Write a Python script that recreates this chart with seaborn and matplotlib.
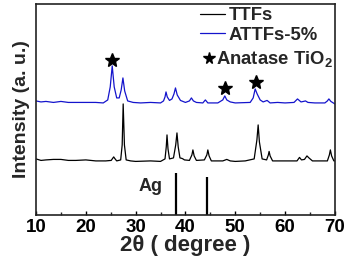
import matplotlib
matplotlib.use("Agg")
import matplotlib.pyplot as plt
import seaborn as sns
import numpy as np
import pandas as pd

# XRD traces (2theta, intensity in arbitrary units)
ttfs_2theta = [10, 11, 12, 13.5, 15, 16.5, 18, 20, 22, 24, 25.1, 25.45, 25.6, 25.8, 26.2,
               27.0, 27.3, 27.5, 27.75, 28.1, 29, 30, 33, 35,
               35.9, 36.15, 36.3, 36.5, 36.8, 37.6, 38.05, 38.3, 38.55, 38.9, 39.3, 39.5, 39.8,
               40.8, 41.3, 41.5, 41.75, 42.2, 43.8, 44.3, 44.5, 44.75, 45.2,
               47.5, 48.3, 49.0, 50, 52, 53.8, 54.35, 54.6, 54.85, 55.4, 56.3, 56.65, 56.8,
               57.0, 57.5, 60, 62.4, 62.9, 63.3, 63.9, 64.4, 64.8, 65.5, 68.5, 68.9, 69.1,
               69.35, 69.8, 70]
ttfs_int = [56, 54.5, 55, 55.5, 55.5, 54.5, 54.5, 55, 54, 54, 54.5, 57, 58, 56.5, 54,
            55, 70, 111, 70, 55, 54, 53.5, 54, 53.5,
            56, 68, 80, 66, 56, 57, 70, 82, 68, 57, 56.5, 56, 55,
            54.5, 60, 65, 59, 54.5, 55, 60, 65, 59, 54,
            54, 55.5, 54, 53.5, 54, 56, 75, 90, 73, 56, 55, 60, 63.5,
            59, 54, 54, 54, 57.5, 55, 55.5, 59, 57, 54, 54, 60, 65,
            59, 54, 54]

attfs_2theta = [10, 11, 12, 13.5, 15, 16.5, 18, 20, 22, 23.5, 24.4, 24.9, 25.3, 25.7, 26.2,
                26.7, 27.1, 27.45, 27.8, 28.4, 29.5, 31, 33, 35,
                35.6, 35.9, 36.1, 36.35, 36.8, 37.3, 37.7, 38.0, 38.35, 39.0, 40, 40.8, 41.2,
                41.6, 42.2, 43.5, 44.0, 44.5, 46.5, 47.5, 47.9, 48.3, 49.0, 50, 53, 53.6,
                54.0, 54.4, 55.0, 55.6, 56.4, 57, 58.5, 60, 61.8, 62.5, 63.2, 63.7, 64.1, 64.6,
                66, 68, 68.5, 68.8, 69.2, 70]
attfs_int = [114, 113, 113.5, 112.5, 113.5, 112.5, 112.5, 112.5, 112.5, 112, 115, 128, 149, 128, 117,
             117, 125, 137, 124, 114, 112.5, 112, 112.5, 112,
             114, 118, 123, 118, 114.5, 116, 121, 127, 120, 114.5, 112.5, 114, 117,
             114, 112.5, 112, 115, 112, 112, 115, 119, 115, 113, 112, 112.5, 117,
             126, 121, 115, 113, 114.5, 112, 112.5, 112, 112.5, 116, 113, 113.5, 114, 112.5,
             112, 112, 114, 116, 113.5, 111]

ag_2theta = [38.1, 44.3]
ag_int = [42, 38]

anatase_2theta = [25.3, 47.9, 54.2]
anatase_star = [155, 127, 133]

df = pd.concat([
    pd.DataFrame({"two_theta": ttfs_2theta, "intensity": ttfs_int, "sample": "TTFs"}),
    pd.DataFrame({"two_theta": attfs_2theta, "intensity": attfs_int, "sample": "ATTFs-5%"}),
])

sns.set_theme(style="ticks")
plt.rcParams["font.family"] = ["Liberation Sans", "DejaVu Sans"]
plt.rcParams["font.weight"] = "bold"
plt.rcParams["mathtext.default"] = "regular"

fig, ax = plt.subplots(figsize=(3.51, 2.64), dpi=100)
sns.lineplot(data=df, x="two_theta", y="intensity", hue="sample",
             palette={"TTFs": "black", "ATTFs-5%": "#1414cc"}, linewidth=0.9,
             sort=False, estimator=None, ax=ax)
ax.vlines(ag_2theta, 0, ag_int, color="black", linewidth=1.6)
star, = ax.plot(anatase_2theta, anatase_star, linestyle="none", marker="*", markersize=10,
                color="black")
ax.text(33, 28, "Ag", fontsize=13, fontweight="bold", ha="center", va="center")

ax.set_xlim(10, 70)
ax.set_ylim(0, 211)
ax.set_xticks([10, 20, 30, 40, 50, 60, 70])
ax.set_xticks([15, 25, 35, 45, 55, 65], minor=True)
ax.set_yticks([])
ax.tick_params(axis="x", which="major", direction="in", length=3, width=1, labelsize=13.5,
               pad=3, colors="black")
ax.tick_params(axis="x", which="minor", direction="in", length=2, width=1)
for lab in ax.get_xticklabels():
    lab.set_fontweight("bold")
for sp in ax.spines.values():
    sp.set_visible(True)
    sp.set_linewidth(1.2)
    sp.set_color("#222222")

ax.set_xlabel("2θ ( degree )", fontsize=16, fontweight="bold", labelpad=-1)
ax.set_ylabel("Intensity (a. u.)", fontsize=14, fontweight="bold", labelpad=4)

# two legends: line samples, then the star marker entry sitting further left
handles, labels = ax.get_legend_handles_labels()
leg1 = ax.legend(handles[:2], ["TTFs", "ATTFs-5%"], loc="upper left",
                 bbox_to_anchor=(0.55, 0.985), frameon=False, handlelength=1.35,
                 handletextpad=0.2, labelspacing=0.15, borderaxespad=0, borderpad=0,
                 prop={"weight": "bold", "size": 13.3})
ax.add_artist(leg1)
ax.legend([star], ["Anatase TiO$_2$"], loc="upper left", bbox_to_anchor=(0.56, 0.785),
          frameon=False, handlelength=0.6, handletextpad=0.1, borderaxespad=0, borderpad=0,
          markerscale=0.85, prop={"weight": "bold", "size": 13.3})

fig.subplots_adjust(left=0.1026, right=0.954, top=0.985, bottom=0.186)
fig.savefig("out.png", dpi=100)
